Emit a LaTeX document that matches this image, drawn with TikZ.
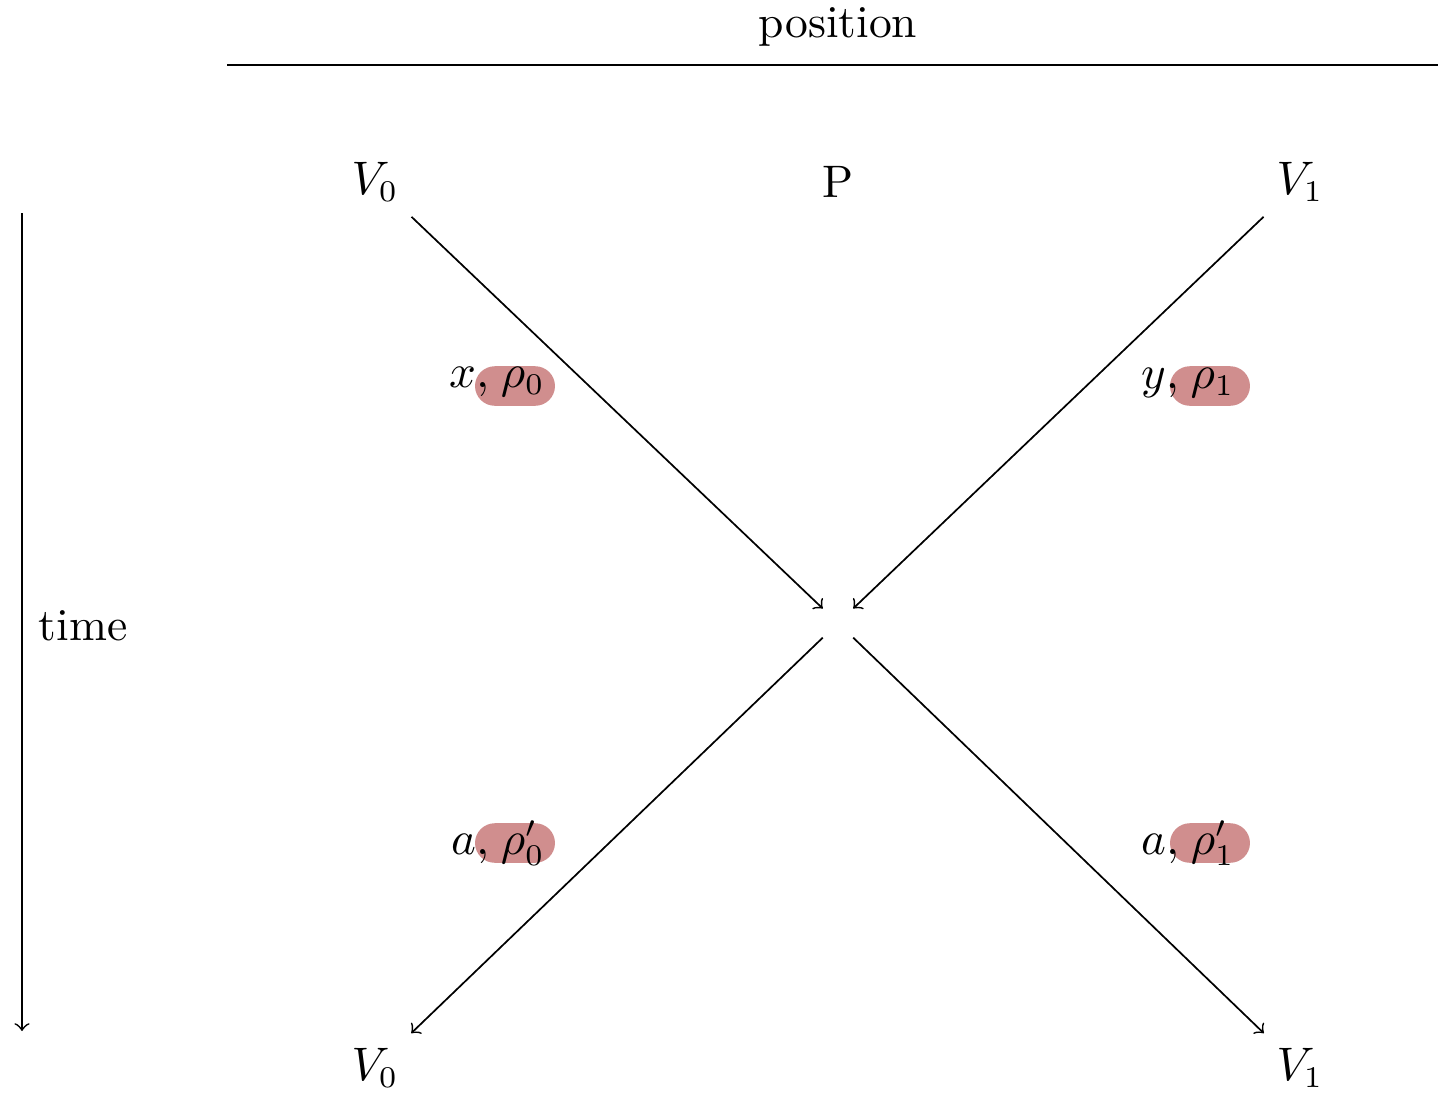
\documentclass[tikz,border=0pt]{standalone}
\usepackage{amsmath,amssymb}
\usepackage{xcolor}
\usepackage{tikz}
\usetikzlibrary{positioning,calc}
\definecolor{hlred}{RGB}{208,142,142}
\tikzset{
  hlbox/.style={fill=hlred,rounded corners=4.6pt,minimum width=18.6pt,minimum height=9.2pt,inner sep=0pt},
}

\begin{document}
\begin{tikzpicture}[x=0.2326pt,y=-0.2326pt,every node/.style={font=\fontsize{10.6}{12.7}\selectfont}]
  \useasboundingbox (0,0) rectangle (1438,1092);
  % axes
  \node (pos) at (838,27) {position};
  \coordinate (posL) at (227,65);
  \coordinate (posR) at (1438,65);
  \draw (posL) -- (posR);
  \coordinate (tTop) at (22,213);
  \coordinate (tBot) at (22,1031);
  \draw[->] (tTop) -- (tBot);
  \node (time) at (83,626) {time};
  % parties
  \node (v0a) at (375,182) {$V_0$};
  \node (p) at (838,182) {P};
  \node (v1a) at (1300,182) {$V_1$};
  \node (c) at (838,623) {};
  \node (v0b) at (375,1068) {$V_0$};
  \node (v1b) at (1300,1068) {$V_1$};
  \draw[->] (v0a) -- (c);
  \draw[->] (v1a) -- (c);
  \draw[->] (c) -- (v0b);
  \draw[->] (c) -- (v1b);
  % messages
  \node[hlbox] (h0) at (515,386) {};
  \node[hlbox] (h1) at (1210,386) {};
  \node[hlbox] (h2) at (515,843) {};
  \node[hlbox] (h3) at (1210,843) {};
  \node[anchor=west] (m0) at (434,382) {$x,\mkern1.5mu\rho_0$};
  \node[anchor=west] (m1) at (1126,383) {$y,\mkern1.5mu\rho_1$};
  \node[anchor=west] (m2) at (436,843) {$a,\mkern1.5mu\rho'_0$};
  \node[anchor=west] (m3) at (1126,843) {$a,\mkern1.5mu\rho'_1$};
\end{tikzpicture}
\end{document}
